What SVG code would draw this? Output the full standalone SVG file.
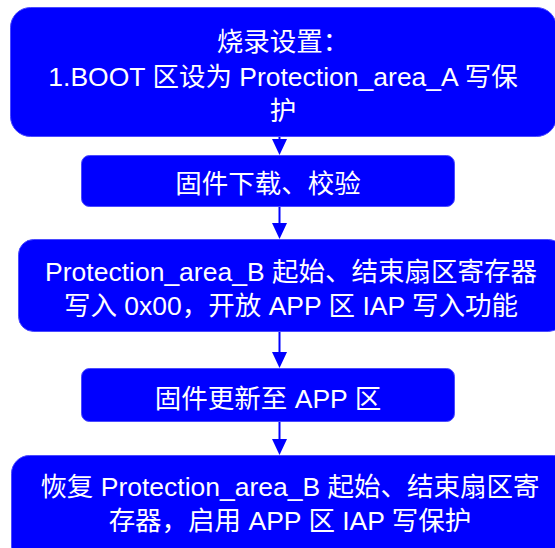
<svg xmlns="http://www.w3.org/2000/svg" width="555" height="548" viewBox="0 0 555 548">
<defs>
<style>
.box{fill:#0000ff;stroke:#4a4aff;stroke-width:1}
.t{fill:#ffffff;font-family:"Liberation Sans","Noto Sans CJK SC",sans-serif;font-size:26.5px;text-anchor:middle}
.c{stroke:#0000ff;stroke-width:2;fill:none}
.h{fill:#0000ff}
</style>
</defs>
<rect width="555" height="548" fill="#ffffff"/>
<g id="node1">
<rect class="box" x="10.5" y="7.5" width="546" height="129" rx="20"/>
<text class="t" x="283" y="51">烧录设置：</text>
<text class="t" x="283" y="86">1.BOOT 区设为 Protection_area_A 写保</text>
<text class="t" x="283" y="120">护</text>
</g>
<g id="node2">
<rect class="box" x="81.5" y="155.5" width="373" height="51" rx="8"/>
<text class="t" x="268" y="193">固件下载、校验</text>
</g>
<g id="node3">
<rect class="box" x="18.5" y="239.5" width="545" height="92" rx="15"/>
<text class="t" x="291" y="281">Protection_area_B 起始、结束扇区寄存器</text>
<text class="t" x="291" y="315">写入 0x00，开放 APP 区 IAP 写入功能</text>
</g>
<g id="node4">
<rect class="box" x="81.5" y="368.5" width="373" height="53" rx="8"/>
<text class="t" x="268" y="408">固件更新至 APP 区</text>
</g>
<g id="node5">
<rect class="box" x="11.5" y="455.5" width="560" height="110" rx="18"/>
<text class="t" x="290" y="496">恢复 Protection_area_B 起始、结束扇区寄</text>
<text class="t" x="290" y="530">存器，启用 APP 区 IAP 写保护</text>
</g>
<g id="connectors">
<line class="c" x1="279.5" y1="137" x2="279.5" y2="142"/>
<polygon class="h" points="272,139 287,139 279.5,155"/>
<line class="c" x1="279.5" y1="207" x2="279.5" y2="225"/>
<polygon class="h" points="272,223 287,223 279.5,239"/>
<line class="c" x1="279.5" y1="332" x2="279.5" y2="355"/>
<polygon class="h" points="272,352 287,352 279.5,368"/>
<line class="c" x1="279.5" y1="422" x2="279.5" y2="442"/>
<polygon class="h" points="272,439 287,439 279.5,455"/>
</g>
</svg>
